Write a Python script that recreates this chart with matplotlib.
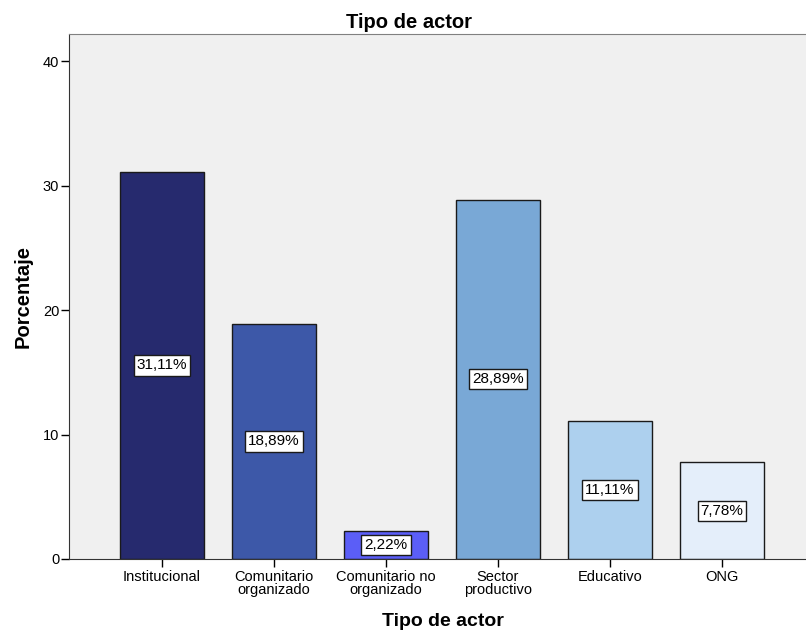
import matplotlib as mpl
import matplotlib.pyplot as plt

mpl.rcParams['font.family'] = ['Liberation Sans', 'DejaVu Sans']

categorias = ['Institucional', 'Comunitario\norganizado', 'Comunitario no\norganizado',
              'Sector\nproductivo', 'Educativo', 'ONG']
porcentajes = [31.11, 18.89, 2.22, 28.89, 11.11, 7.78]
etiquetas = ['31,11%', '18,89%', '2,22%', '28,89%', '11,11%', '7,78%']
colores = ['#262a6e', '#3d58a8', '#5b5ef7', '#79a8d6', '#add0ee', '#e4eefa']

fig = plt.figure(figsize=(8.06, 6.34), dpi=100)
ax = fig.add_axes([69/806, (634-559)/634, (806-69)/806, (559-34)/634])
ax.set_facecolor('#f0f0f0')

x = list(range(len(categorias)))
ax.bar(x, porcentajes, width=0.75, color=colores, edgecolor='#1a1a1a', linewidth=1, zorder=2)

# etiquetas de porcentaje en el centro de cada barra
for xi, v, t in zip(x, porcentajes, etiquetas):
    ax.text(xi, v / 2, t, ha='center', va='center', fontsize=11, zorder=3,
            bbox=dict(boxstyle='square,pad=0.2', fc='white', ec='#1a1a1a', lw=1))

ax.set_xlim(-0.83, 5.75)
ax.set_ylim(0, 42.2)
ax.set_yticks([0, 10, 20, 30, 40])
ax.set_xticks(x)
ax.set_xticklabels(categorias, fontsize=10.5, linespacing=0.9)
ax.tick_params(axis='y', labelsize=10.5, length=6, width=1, direction='out', pad=1)
ax.tick_params(axis='x', length=6, width=1, direction='out', pad=2)

ax.spines['top'].set_color('#808080')
ax.spines['right'].set_visible(False)
ax.spines['left'].set_color('#333333')
ax.spines['bottom'].set_color('#333333')

# el titulo va centrado en la figura, no en los ejes
ax.set_title('Tipo de actor', fontsize=14.5, fontweight='bold', pad=4, x=0.461)
ax.set_ylabel('Porcentaje', fontsize=14.5, fontweight='bold')
ax.set_xlabel('Tipo de actor', fontsize=14, fontweight='bold')
ax.yaxis.set_label_coords(-0.049, 0.5)
ax.xaxis.set_label_coords(0.507, -0.103)

plt.savefig('out.png', dpi=100)
